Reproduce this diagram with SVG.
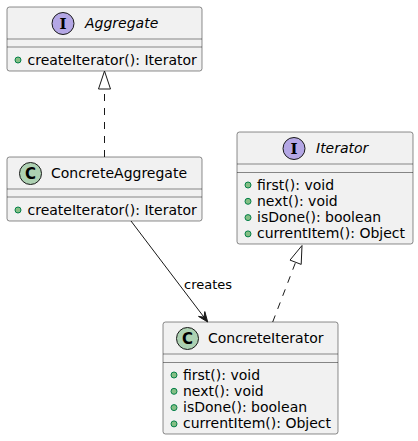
<svg xmlns="http://www.w3.org/2000/svg" width="418" height="441" viewBox="0 0 418 441">
<style>
.box{fill:#F1F1F1;stroke:#181818;stroke-width:0.5}
.sep{stroke:#181818;stroke-width:0.5}
.name{font-family:"DejaVu Sans",sans-serif;font-size:14px;fill:#000}
.iname{font-family:"DejaVu Sans",sans-serif;font-size:14px;font-style:italic;fill:#000}
.mem{font-family:"DejaVu Sans",sans-serif;font-size:14px;fill:#000}
.pub{fill:#84BE84;stroke:#038048;stroke-width:1}
.cc{fill:#ADD1B2;stroke:#181818;stroke-width:1}
.ic{fill:#B4A7E5;stroke:#181818;stroke-width:1}
.cl{font-family:"DejaVu Sans",sans-serif;font-size:15px;font-weight:bold;fill:#000;text-anchor:middle}
.il{font-family:"DejaVu Serif",serif;font-size:15px;font-weight:bold;fill:#000;text-anchor:middle}
.edge{stroke:#181818;stroke-width:1;fill:none}
.dash{stroke-dasharray:7,7}
.hollow{fill:none;stroke:#181818;stroke-width:1}
.head{fill:#181818;stroke:#181818;stroke-width:1}
.lbl{font-family:"DejaVu Sans",sans-serif;font-size:13px;fill:#000}
</style>

<g id="Aggregate">
<rect class="box" x="7" y="7" width="195" height="64" rx="2.5"/>
<circle class="ic" cx="63" cy="23.5" r="11"/>
<text class="il" x="63" y="28.8">I</text>
<text class="iname" x="85" y="28.3">Aggregate</text>
<line class="sep" x1="7" y1="39" x2="202" y2="39"/>
<line class="sep" x1="7" y1="47" x2="202" y2="47"/>
<circle class="pub" cx="18" cy="60" r="3"/>
<text class="mem" x="27.5" y="64.5">createIterator(): Iterator</text>
</g>

<g id="ConcreteAggregate">
<rect class="box" x="7" y="157" width="195" height="64" rx="2.5"/>
<circle class="cc" cx="30.5" cy="173.5" r="11"/>
<text class="cl" x="30.5" y="178.8">C</text>
<text class="name" x="51" y="178.3">ConcreteAggregate</text>
<line class="sep" x1="7" y1="189" x2="202" y2="189"/>
<line class="sep" x1="7" y1="197" x2="202" y2="197"/>
<circle class="pub" cx="18" cy="210" r="3"/>
<text class="mem" x="27.5" y="214.5">createIterator(): Iterator</text>
</g>

<g id="Iterator">
<rect class="box" x="237" y="132" width="176" height="112" rx="2.5"/>
<circle class="ic" cx="294" cy="148.5" r="11"/>
<text class="il" x="294" y="153.8">I</text>
<text class="iname" x="316" y="153.3">Iterator</text>
<line class="sep" x1="237" y1="164" x2="413" y2="164"/>
<line class="sep" x1="237" y1="172.5" x2="413" y2="172.5"/>
<circle class="pub" cx="248" cy="185" r="3"/>
<text class="mem" x="257" y="189.5">first(): void</text>
<circle class="pub" cx="248" cy="201.3" r="3"/>
<text class="mem" x="257" y="205.8">next(): void</text>
<circle class="pub" cx="248" cy="217.6" r="3"/>
<text class="mem" x="257" y="222.1">isDone(): boolean</text>
<circle class="pub" cx="248" cy="233.9" r="3"/>
<text class="mem" x="257" y="238.4">currentItem(): Object</text>
</g>

<g id="ConcreteIterator">
<rect class="box" x="163" y="322" width="175" height="112" rx="2.5"/>
<circle class="cc" cx="187.5" cy="338.5" r="11"/>
<text class="cl" x="187.5" y="343.8">C</text>
<text class="name" x="208" y="343.3">ConcreteIterator</text>
<line class="sep" x1="163" y1="354" x2="338" y2="354"/>
<line class="sep" x1="163" y1="362.5" x2="338" y2="362.5"/>
<circle class="pub" cx="174" cy="375" r="3"/>
<text class="mem" x="183" y="379.5">first(): void</text>
<circle class="pub" cx="174" cy="391.3" r="3"/>
<text class="mem" x="183" y="395.8">next(): void</text>
<circle class="pub" cx="174" cy="407.6" r="3"/>
<text class="mem" x="183" y="412.1">isDone(): boolean</text>
<circle class="pub" cx="174" cy="423.9" r="3"/>
<text class="mem" x="183" y="428.4">currentItem(): Object</text>
</g>

<g id="connectors">
<line class="edge dash" x1="104.5" y1="157" x2="104.5" y2="89"/>
<polygon class="hollow" points="104.5,71 98.5,89 110.5,89"/>
<line class="edge dash" x1="272.7" y1="322" x2="295.6" y2="262.3"/>
<polygon class="hollow" points="302,245.5 290,260.1 301.2,264.4"/>
<line class="edge" x1="131" y1="221" x2="204" y2="317.2"/>
<polygon class="head" points="207.7,322 198.5,316.4 204.1,317.2 204.8,311.6"/>
<text class="lbl" x="184" y="288.5">creates</text>
</g>
</svg>
